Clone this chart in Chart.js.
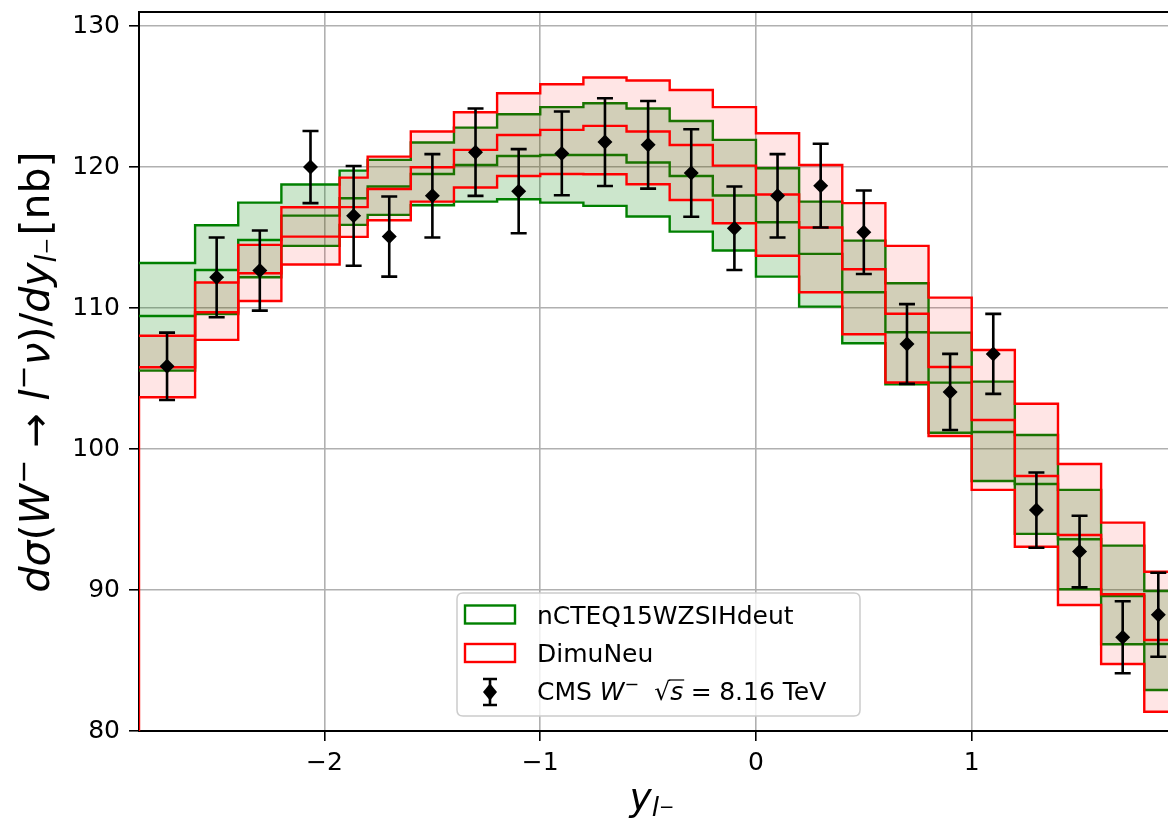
<!DOCTYPE html>
<html><head><meta charset="utf-8">
<script src="https://cdn.jsdelivr.net/npm/chart.js@4.4.0/dist/chart.umd.min.js"></script>
<style>html,body{margin:0;padding:0;background:#fff;}#wrap{width:1168px;height:823px;}</style>
</head><body><div id="wrap"><canvas id="c" width="1168" height="823"></canvas></div>
<script>
// ---- data ----
const binEdges = [-2.86,-2.6,-2.4,-2.2,-1.93,-1.8,-1.6,-1.4,-1.2,-1.0,-0.8,-0.6,-0.4,-0.2,0,0.2,0.4,0.6,0.8,1.0,1.2,1.4,1.6,1.8,1.93];
const ncteqUpper   = [113.2,115.87,117.48,118.76,119.75,120.51,121.74,122.8,123.75,124.25,124.53,124.15,123.27,121.93,119.92,117.55,114.78,111.76,108.26,104.78,101.0,97.1,93.15,89.93];
const ncteqCentral = [109.44,112.7,114.83,116.56,117.79,118.62,119.51,120.15,120.79,120.86,120.86,120.32,119.37,117.98,116.09,113.84,111.12,108.28,104.71,101.21,97.52,93.6,89.58,86.17];
const ncteqLower   = [105.56,109.58,112.19,114.41,115.9,116.61,117.29,117.55,117.72,117.48,117.25,116.49,115.42,114.08,112.23,110.1,107.5,104.59,101.16,97.73,93.98,90.05,86.15,82.91];
const dimuUpper    = [108.04,111.81,114.48,117.15,119.25,120.74,122.52,123.89,125.24,125.88,126.35,126.14,125.47,124.25,122.4,120.15,117.44,114.41,110.74,107.03,103.21,98.94,94.78,91.3];
const dimuCentral  = [105.8,109.7,112.47,115.07,117.16,118.45,119.99,121.22,122.28,122.64,122.92,122.52,121.57,120.1,118.06,115.71,112.75,109.6,105.82,102.06,98.09,93.9,89.7,86.45];
const dimuLower    = [103.67,107.74,110.5,113.09,115.05,116.23,117.55,118.55,119.37,119.51,119.49,118.78,117.67,116.02,113.71,111.12,108.14,104.72,100.93,97.1,93.07,88.94,84.75,81.37];
const cmsValues    = [105.87,112.18,112.66,120.0,116.54,115.07,117.96,121.06,118.29,120.97,121.77,121.58,119.58,115.66,117.96,118.68,115.38,107.45,104.05,106.75,95.67,92.73,86.65,88.25];
const cmsErrors    = [2.39,2.83,2.84,2.56,3.54,2.84,2.96,3.1,2.98,2.97,3.11,3.11,3.1,2.96,2.96,2.97,2.96,2.83,2.7,2.84,2.67,2.54,2.55,2.98];
const xTickValues  = [-2,-1,0,1];
const yTickValues  = [80,90,100,110,120,130];
const legendLabels = ['nCTEQ15WZSIHdeut','DimuNeu'];

// ---- helpers ----
const FONT = '"DejaVu Sans"';
Chart.defaults.font.family = FONT;
const GREEN = '#008000', RED = '#ff0000';
const GREEN_FILL = 'rgba(0,128,0,0.2)', RED_FILL = 'rgba(255,0,0,0.1)';
const LW = 2.4;
function stairs(vals){ return binEdges.map((x,i)=>({x:x, y:vals[Math.min(i, vals.length-1)]})); }
const binCenters = binEdges.slice(0,-1).map((e,i)=>(e+binEdges[i+1])/2);
const cmsPoints = binCenters.map((c,i)=>({x:c, y:cmsValues[i]}));
const fmt = v => (v<0 ? '\u2212'+Math.abs(v) : String(v));

function richWidth(ctx, parts, size){
  let w=0;
  for(const p of parts){
    const fs=size*(p.s||1);
    ctx.font=(p.it?'italic ':'')+fs+'px '+FONT;
    w+=(p.pre||0)*size+ctx.measureText(p.t).width+(p.post||0)*size;
  }
  return w;
}
function drawRich(ctx, parts, x, y, size){
  let cx=x;
  for(const p of parts){
    const fs=size*(p.s||1);
    ctx.font=(p.it?'italic ':'')+fs+'px '+FONT;
    cx+=(p.pre||0)*size;
    const w=ctx.measureText(p.t).width;
    ctx.fillText(p.t, cx, y-(p.dy||0)*size);
    if(p.over){
      ctx.save(); ctx.lineWidth=Math.max(1,size*0.05); ctx.strokeStyle=ctx.fillStyle;
      ctx.beginPath(); ctx.moveTo(cx-1, y-0.80*size); ctx.lineTo(cx+w+1, y-0.80*size); ctx.stroke(); ctx.restore();
    }
    cx+=w+(p.post||0)*size;
  }
  return cx-x;
}
function noPad(s){ s.paddingTop=0; s.paddingBottom=0; s.paddingLeft=0; s.paddingRight=0; }

const decorPlugin = {
  id:'decor',
  afterDatasetsDraw(chart){
    const {ctx, chartArea:a, scales:{x, y}} = chart;
    ctx.save();
    ctx.beginPath(); ctx.rect(a.left, a.top, a.right-a.left, a.bottom-a.top); ctx.clip();
    ctx.strokeStyle='#000'; ctx.lineWidth=2.6;
    binCenters.forEach((c,i)=>{
      const px=x.getPixelForValue(c);
      const t=y.getPixelForValue(cmsValues[i]+cmsErrors[i]);
      const b=y.getPixelForValue(cmsValues[i]-cmsErrors[i]);
      ctx.beginPath();
      ctx.moveTo(px,t); ctx.lineTo(px,b);
      ctx.moveTo(px-8,t); ctx.lineTo(px+8,t);
      ctx.moveTo(px-8,b); ctx.lineTo(px+8,b);
      ctx.stroke();
    });
    ctx.restore();
    ctx.save(); ctx.strokeStyle='#000'; ctx.lineWidth=2;
    ctx.beginPath(); ctx.moveTo(a.left-1, a.top); ctx.lineTo(a.right, a.top); ctx.stroke(); ctx.restore();
  },
  afterDraw(chart){
    const ctx=chart.ctx;
    ctx.save();
    ctx.fillStyle='#000'; ctx.textBaseline='alphabetic';
    const L=37.5;
    const xl=[{t:'y',it:1},{t:'l',it:1,s:0.7,dy:-0.18},{t:'\u2212',s:0.49,dy:-0.09}];
    const xw=richWidth(ctx,xl,L);
    drawRich(ctx,xl,648-xw/2+4,809.5,L);
    const YL=41;
    const yl=[{t:'d',it:1},{t:'\u03c3',it:1},{t:'('},{t:'W',it:1},{t:'\u2212',s:0.7,dy:0.4},
      {t:'\u2192',pre:0.3,post:0.3},{t:'l',it:1},{t:'\u2212',s:0.7,dy:0.4},{t:'\u03bd',it:1},{t:')'},{t:'/'},
      {t:'d',it:1},{t:'y',it:1},{t:'l',it:1,s:0.7,dy:-0.18},{t:'\u2212',s:0.49,dy:-0.09,post:0.05},{t:'[nb]'}];
    const yw=richWidth(ctx,yl,YL);
    ctx.save(); ctx.translate(49,372); ctx.rotate(-Math.PI/2);
    drawRich(ctx,yl,-yw/2,0,YL); ctx.restore();
    // legend
    const F=25;
    const lx=457, ly=593, lw=403, lh=123, r=6;
    ctx.beginPath();
    ctx.moveTo(lx+r,ly); ctx.lineTo(lx+lw-r,ly); ctx.quadraticCurveTo(lx+lw,ly,lx+lw,ly+r);
    ctx.lineTo(lx+lw,ly+lh-r); ctx.quadraticCurveTo(lx+lw,ly+lh,lx+lw-r,ly+lh);
    ctx.lineTo(lx+r,ly+lh); ctx.quadraticCurveTo(lx,ly+lh,lx,ly+lh-r);
    ctx.lineTo(lx,ly+r); ctx.quadraticCurveTo(lx,ly,lx+r,ly); ctx.closePath();
    ctx.fillStyle='rgba(255,255,255,0.8)'; ctx.fill();
    ctx.strokeStyle='#cccccc'; ctx.lineWidth=1.5; ctx.stroke();
    const hx=465, hw=50, tx=537;
    const rows=[614.5,653,691];
    const cols=[GREEN,RED];
    for(let i=0;i<2;i++){
      ctx.strokeStyle=cols[i]; ctx.lineWidth=LW;
      ctx.strokeRect(hx, rows[i]-9, hw, 18);
      ctx.fillStyle='#000'; ctx.font=F+'px '+FONT;
      ctx.fillText(legendLabels[i], tx, rows[i]+9);
    }
    const ex=hx+hw/2, ey=rows[2];
    ctx.strokeStyle='#000'; ctx.lineWidth=2.6;
    ctx.beginPath(); ctx.moveTo(ex,ey-12); ctx.lineTo(ex,ey+14);
    ctx.moveTo(ex-7,ey-12); ctx.lineTo(ex+7,ey-12); ctx.moveTo(ex-7,ey+14); ctx.lineTo(ex+7,ey+14); ctx.stroke();
    ctx.beginPath(); ctx.moveTo(ex,ey-7.5); ctx.lineTo(ex+7,ey+1); ctx.lineTo(ex,ey+9.5); ctx.lineTo(ex-7,ey+1); ctx.closePath();
    ctx.fillStyle='#000'; ctx.fill();
    const cms=[{t:'CMS '},{t:'W',it:1},{t:'\u2212',s:0.7,dy:0.4,post:0.6},{t:'\u221a'},{t:'s',it:1,over:1},
      {t:'=',pre:0.3,post:0.3},{t:'8.16 TeV'}];
    drawRich(ctx,cms,tx,ey+9,F);
    ctx.restore();
  }
};

const stepDs = (label, vals, color, extra) => Object.assign({
  label, data: stairs(vals), stepped: true, borderColor: color, borderWidth: LW,
  pointRadius: 0, fill: false, tension: 0
}, extra||{});

const chart = new Chart(document.getElementById('c'), {
  type: 'line',
  data: {
    datasets: [
      { label:'CMS', data: cmsPoints, showLine:false, pointStyle:'rectRot', pointRadius:7.5,
        backgroundColor:'#000', borderColor:'#000', borderWidth:0 },
      stepDs('DimuNeu upper', dimuUpper, RED),
      stepDs('DimuNeu central', dimuCentral, RED),
      stepDs('DimuNeu lower', dimuLower, RED, {fill:{target:1}, backgroundColor:RED_FILL}),
      { label:'DimuNeu edge', data:[{x:binEdges[0], y:70},{x:binEdges[0], y:dimuLower[0]}],
        borderColor:RED, borderWidth:LW, pointRadius:0, fill:false },
      stepDs('nCTEQ upper', ncteqUpper, GREEN),
      stepDs('nCTEQ central', ncteqCentral, GREEN),
      stepDs('nCTEQ lower', ncteqLower, GREEN, {fill:{target:5}, backgroundColor:GREEN_FILL})
    ]
  },
  options: {
    responsive:false, animation:false, devicePixelRatio:1,
    layout:{autoPadding:false, padding:{top:12,right:0,left:0,bottom:0}},
    plugins:{legend:{display:false}, tooltip:{enabled:false}},
    scales:{
      x:{type:'linear', min:-2.86, max:1.91,
        afterBuildTicks:s=>{s.ticks=xTickValues.map(v=>({value:v}));},
        afterFit:s=>{s.height=92; noPad(s);},
        ticks:{color:'#000', font:{size:25, family:FONT}, padding:7, maxRotation:0, callback:v=>fmt(v)},
        grid:{color:'#b0b0b0', lineWidth:1.6, tickColor:'#000', tickLength:10, tickWidth:1.6},
        border:{display:true, color:'#000', width:2}
      },
      y:{type:'linear', min:80, max:131,
        afterBuildTicks:s=>{s.ticks=yTickValues.map(v=>({value:v}));},
        afterFit:s=>{s.width=139; noPad(s);},
        ticks:{color:'#000', font:{size:25, family:FONT}, padding:9, callback:v=>fmt(v)},
        grid:{color:'#b0b0b0', lineWidth:1.6, tickColor:'#000', tickLength:10, tickWidth:1.6},
        border:{display:true, color:'#000', width:2}
      }
    }
  },
  plugins:[decorPlugin]
});
</script></body></html>
